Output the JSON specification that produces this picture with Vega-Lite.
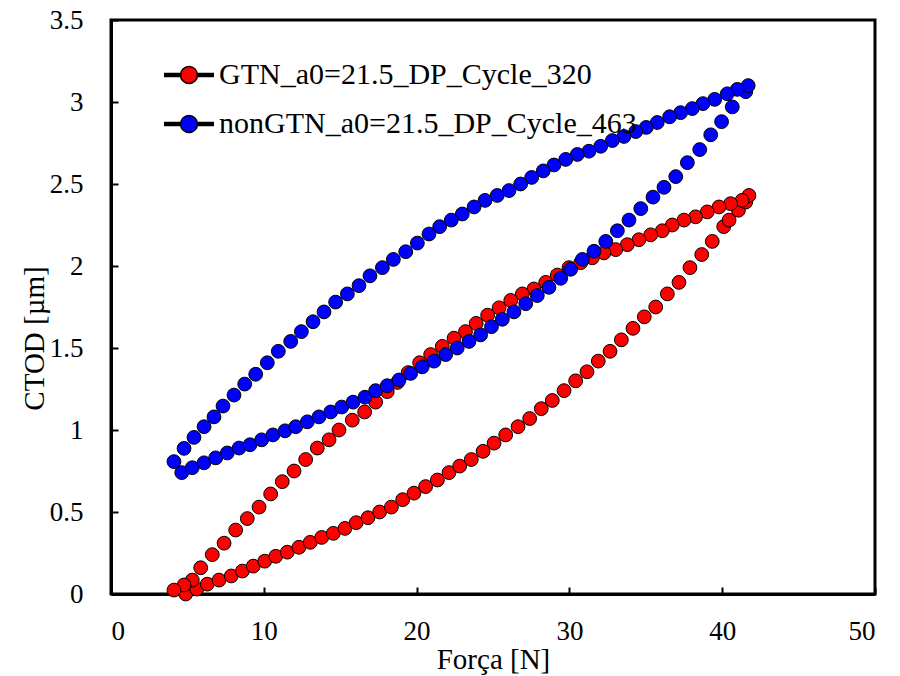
{
  "$schema": "https://vega.github.io/schema/vega-lite/v6.json",
  "width": 764,
  "height": 574,
  "autosize": {"type": "none"},
  "padding": {"left": 111, "top": 20, "right": 25, "bottom": 82},
  "background": "white",
  "config": {
    "view": {"stroke": "black", "strokeWidth": 3},
    "axis": {
      "grid": false,
      "domainColor": "black",
      "domainWidth": 3,
      "tickColor": "black",
      "tickWidth": 2,
      "tickSize": -7,
      "labelFont": "Liberation Serif",
      "labelFontSize": 27,
      "labelColor": "black",
      "titleFont": "Liberation Serif",
      "titleFontSize": 29,
      "titleFontWeight": "normal",
      "titleColor": "black"
    }
  },
  "data": {
    "values": [
      {"series": "GTN_a0=21.5_DP_Cycle_320", "force": 4.89, "ctod": 0.0},
      {"series": "GTN_a0=21.5_DP_Cycle_320", "force": 5.61, "ctod": 0.03},
      {"series": "GTN_a0=21.5_DP_Cycle_320", "force": 6.30, "ctod": 0.06},
      {"series": "GTN_a0=21.5_DP_Cycle_320", "force": 7.07, "ctod": 0.085},
      {"series": "GTN_a0=21.5_DP_Cycle_320", "force": 7.87, "ctod": 0.11},
      {"series": "GTN_a0=21.5_DP_Cycle_320", "force": 8.60, "ctod": 0.14},
      {"series": "GTN_a0=21.5_DP_Cycle_320", "force": 9.31, "ctod": 0.17},
      {"series": "GTN_a0=21.5_DP_Cycle_320", "force": 10.06, "ctod": 0.2},
      {"series": "GTN_a0=21.5_DP_Cycle_320", "force": 10.78, "ctod": 0.23},
      {"series": "GTN_a0=21.5_DP_Cycle_320", "force": 11.54, "ctod": 0.255},
      {"series": "GTN_a0=21.5_DP_Cycle_320", "force": 12.30, "ctod": 0.285},
      {"series": "GTN_a0=21.5_DP_Cycle_320", "force": 13.04, "ctod": 0.315},
      {"series": "GTN_a0=21.5_DP_Cycle_320", "force": 13.79, "ctod": 0.345},
      {"series": "GTN_a0=21.5_DP_Cycle_320", "force": 14.55, "ctod": 0.37},
      {"series": "GTN_a0=21.5_DP_Cycle_320", "force": 15.31, "ctod": 0.4},
      {"series": "GTN_a0=21.5_DP_Cycle_320", "force": 16.05, "ctod": 0.435},
      {"series": "GTN_a0=21.5_DP_Cycle_320", "force": 16.82, "ctod": 0.465},
      {"series": "GTN_a0=21.5_DP_Cycle_320", "force": 17.58, "ctod": 0.5},
      {"series": "GTN_a0=21.5_DP_Cycle_320", "force": 18.35, "ctod": 0.53},
      {"series": "GTN_a0=21.5_DP_Cycle_320", "force": 19.09, "ctod": 0.575},
      {"series": "GTN_a0=21.5_DP_Cycle_320", "force": 19.83, "ctod": 0.615},
      {"series": "GTN_a0=21.5_DP_Cycle_320", "force": 20.59, "ctod": 0.655},
      {"series": "GTN_a0=21.5_DP_Cycle_320", "force": 21.36, "ctod": 0.695},
      {"series": "GTN_a0=21.5_DP_Cycle_320", "force": 22.12, "ctod": 0.74},
      {"series": "GTN_a0=21.5_DP_Cycle_320", "force": 22.82, "ctod": 0.78},
      {"series": "GTN_a0=21.5_DP_Cycle_320", "force": 23.58, "ctod": 0.82},
      {"series": "GTN_a0=21.5_DP_Cycle_320", "force": 24.35, "ctod": 0.87},
      {"series": "GTN_a0=21.5_DP_Cycle_320", "force": 25.07, "ctod": 0.92},
      {"series": "GTN_a0=21.5_DP_Cycle_320", "force": 25.83, "ctod": 0.97},
      {"series": "GTN_a0=21.5_DP_Cycle_320", "force": 26.64, "ctod": 1.02},
      {"series": "GTN_a0=21.5_DP_Cycle_320", "force": 27.40, "ctod": 1.07},
      {"series": "GTN_a0=21.5_DP_Cycle_320", "force": 28.16, "ctod": 1.13},
      {"series": "GTN_a0=21.5_DP_Cycle_320", "force": 28.88, "ctod": 1.18},
      {"series": "GTN_a0=21.5_DP_Cycle_320", "force": 29.65, "ctod": 1.24},
      {"series": "GTN_a0=21.5_DP_Cycle_320", "force": 30.41, "ctod": 1.3},
      {"series": "GTN_a0=21.5_DP_Cycle_320", "force": 31.15, "ctod": 1.355},
      {"series": "GTN_a0=21.5_DP_Cycle_320", "force": 31.89, "ctod": 1.42},
      {"series": "GTN_a0=21.5_DP_Cycle_320", "force": 32.66, "ctod": 1.48},
      {"series": "GTN_a0=21.5_DP_Cycle_320", "force": 33.40, "ctod": 1.55},
      {"series": "GTN_a0=21.5_DP_Cycle_320", "force": 34.16, "ctod": 1.62},
      {"series": "GTN_a0=21.5_DP_Cycle_320", "force": 34.90, "ctod": 1.69},
      {"series": "GTN_a0=21.5_DP_Cycle_320", "force": 35.65, "ctod": 1.75},
      {"series": "GTN_a0=21.5_DP_Cycle_320", "force": 36.41, "ctod": 1.83},
      {"series": "GTN_a0=21.5_DP_Cycle_320", "force": 37.17, "ctod": 1.9},
      {"series": "GTN_a0=21.5_DP_Cycle_320", "force": 37.89, "ctod": 1.99},
      {"series": "GTN_a0=21.5_DP_Cycle_320", "force": 38.66, "ctod": 2.07},
      {"series": "GTN_a0=21.5_DP_Cycle_320", "force": 39.35, "ctod": 2.15},
      {"series": "GTN_a0=21.5_DP_Cycle_320", "force": 40.10, "ctod": 2.24},
      {"series": "GTN_a0=21.5_DP_Cycle_320", "force": 40.45, "ctod": 2.28},
      {"series": "GTN_a0=21.5_DP_Cycle_320", "force": 41.06, "ctod": 2.34},
      {"series": "GTN_a0=21.5_DP_Cycle_320", "force": 41.54, "ctod": 2.39},
      {"series": "GTN_a0=21.5_DP_Cycle_320", "force": 41.75, "ctod": 2.43},
      {"series": "GTN_a0=21.5_DP_Cycle_320", "force": 41.30, "ctod": 2.4},
      {"series": "GTN_a0=21.5_DP_Cycle_320", "force": 40.55, "ctod": 2.38},
      {"series": "GTN_a0=21.5_DP_Cycle_320", "force": 39.79, "ctod": 2.36},
      {"series": "GTN_a0=21.5_DP_Cycle_320", "force": 39.02, "ctod": 2.33},
      {"series": "GTN_a0=21.5_DP_Cycle_320", "force": 38.26, "ctod": 2.3},
      {"series": "GTN_a0=21.5_DP_Cycle_320", "force": 37.50, "ctod": 2.28},
      {"series": "GTN_a0=21.5_DP_Cycle_320", "force": 36.73, "ctod": 2.25},
      {"series": "GTN_a0=21.5_DP_Cycle_320", "force": 36.08, "ctod": 2.215},
      {"series": "GTN_a0=21.5_DP_Cycle_320", "force": 35.32, "ctod": 2.19},
      {"series": "GTN_a0=21.5_DP_Cycle_320", "force": 34.55, "ctod": 2.16},
      {"series": "GTN_a0=21.5_DP_Cycle_320", "force": 33.79, "ctod": 2.13},
      {"series": "GTN_a0=21.5_DP_Cycle_320", "force": 33.03, "ctod": 2.1},
      {"series": "GTN_a0=21.5_DP_Cycle_320", "force": 32.26, "ctod": 2.08},
      {"series": "GTN_a0=21.5_DP_Cycle_320", "force": 31.50, "ctod": 2.05},
      {"series": "GTN_a0=21.5_DP_Cycle_320", "force": 30.74, "ctod": 2.02},
      {"series": "GTN_a0=21.5_DP_Cycle_320", "force": 29.97, "ctod": 1.99},
      {"series": "GTN_a0=21.5_DP_Cycle_320", "force": 29.21, "ctod": 1.945},
      {"series": "GTN_a0=21.5_DP_Cycle_320", "force": 28.45, "ctod": 1.9},
      {"series": "GTN_a0=21.5_DP_Cycle_320", "force": 27.68, "ctod": 1.86},
      {"series": "GTN_a0=21.5_DP_Cycle_320", "force": 26.92, "ctod": 1.83},
      {"series": "GTN_a0=21.5_DP_Cycle_320", "force": 26.16, "ctod": 1.79},
      {"series": "GTN_a0=21.5_DP_Cycle_320", "force": 25.40, "ctod": 1.745},
      {"series": "GTN_a0=21.5_DP_Cycle_320", "force": 24.65, "ctod": 1.7},
      {"series": "GTN_a0=21.5_DP_Cycle_320", "force": 23.90, "ctod": 1.65},
      {"series": "GTN_a0=21.5_DP_Cycle_320", "force": 23.20, "ctod": 1.6},
      {"series": "GTN_a0=21.5_DP_Cycle_320", "force": 22.45, "ctod": 1.56},
      {"series": "GTN_a0=21.5_DP_Cycle_320", "force": 21.68, "ctod": 1.51},
      {"series": "GTN_a0=21.5_DP_Cycle_320", "force": 20.92, "ctod": 1.46},
      {"series": "GTN_a0=21.5_DP_Cycle_320", "force": 20.20, "ctod": 1.41},
      {"series": "GTN_a0=21.5_DP_Cycle_320", "force": 19.45, "ctod": 1.35},
      {"series": "GTN_a0=21.5_DP_Cycle_320", "force": 18.75, "ctod": 1.29},
      {"series": "GTN_a0=21.5_DP_Cycle_320", "force": 18.08, "ctod": 1.234},
      {"series": "GTN_a0=21.5_DP_Cycle_320", "force": 17.32, "ctod": 1.17},
      {"series": "GTN_a0=21.5_DP_Cycle_320", "force": 16.60, "ctod": 1.11},
      {"series": "GTN_a0=21.5_DP_Cycle_320", "force": 15.79, "ctod": 1.06},
      {"series": "GTN_a0=21.5_DP_Cycle_320", "force": 14.92, "ctod": 1.0},
      {"series": "GTN_a0=21.5_DP_Cycle_320", "force": 14.27, "ctod": 0.94},
      {"series": "GTN_a0=21.5_DP_Cycle_320", "force": 13.50, "ctod": 0.89},
      {"series": "GTN_a0=21.5_DP_Cycle_320", "force": 12.74, "ctod": 0.82},
      {"series": "GTN_a0=21.5_DP_Cycle_320", "force": 11.98, "ctod": 0.75},
      {"series": "GTN_a0=21.5_DP_Cycle_320", "force": 11.21, "ctod": 0.685},
      {"series": "GTN_a0=21.5_DP_Cycle_320", "force": 10.45, "ctod": 0.61},
      {"series": "GTN_a0=21.5_DP_Cycle_320", "force": 9.69, "ctod": 0.53},
      {"series": "GTN_a0=21.5_DP_Cycle_320", "force": 8.92, "ctod": 0.46},
      {"series": "GTN_a0=21.5_DP_Cycle_320", "force": 8.16, "ctod": 0.39},
      {"series": "GTN_a0=21.5_DP_Cycle_320", "force": 7.40, "ctod": 0.31},
      {"series": "GTN_a0=21.5_DP_Cycle_320", "force": 6.63, "ctod": 0.24},
      {"series": "GTN_a0=21.5_DP_Cycle_320", "force": 5.87, "ctod": 0.16},
      {"series": "GTN_a0=21.5_DP_Cycle_320", "force": 5.32, "ctod": 0.085},
      {"series": "GTN_a0=21.5_DP_Cycle_320", "force": 4.78, "ctod": 0.055},
      {"series": "GTN_a0=21.5_DP_Cycle_320", "force": 4.12, "ctod": 0.024},
      {"series": "nonGTN_a0=21.5_DP_Cycle_463", "force": 4.63, "ctod": 0.74},
      {"series": "nonGTN_a0=21.5_DP_Cycle_463", "force": 5.32, "ctod": 0.77},
      {"series": "nonGTN_a0=21.5_DP_Cycle_463", "force": 6.09, "ctod": 0.8},
      {"series": "nonGTN_a0=21.5_DP_Cycle_463", "force": 6.85, "ctod": 0.83},
      {"series": "nonGTN_a0=21.5_DP_Cycle_463", "force": 7.61, "ctod": 0.86},
      {"series": "nonGTN_a0=21.5_DP_Cycle_463", "force": 8.38, "ctod": 0.89},
      {"series": "nonGTN_a0=21.5_DP_Cycle_463", "force": 9.10, "ctod": 0.91},
      {"series": "nonGTN_a0=21.5_DP_Cycle_463", "force": 9.86, "ctod": 0.94},
      {"series": "nonGTN_a0=21.5_DP_Cycle_463", "force": 10.60, "ctod": 0.97},
      {"series": "nonGTN_a0=21.5_DP_Cycle_463", "force": 11.39, "ctod": 0.995},
      {"series": "nonGTN_a0=21.5_DP_Cycle_463", "force": 12.09, "ctod": 1.02},
      {"series": "nonGTN_a0=21.5_DP_Cycle_463", "force": 12.85, "ctod": 1.05},
      {"series": "nonGTN_a0=21.5_DP_Cycle_463", "force": 13.61, "ctod": 1.08},
      {"series": "nonGTN_a0=21.5_DP_Cycle_463", "force": 14.38, "ctod": 1.11},
      {"series": "nonGTN_a0=21.5_DP_Cycle_463", "force": 15.10, "ctod": 1.14},
      {"series": "nonGTN_a0=21.5_DP_Cycle_463", "force": 15.84, "ctod": 1.17},
      {"series": "nonGTN_a0=21.5_DP_Cycle_463", "force": 16.62, "ctod": 1.2},
      {"series": "nonGTN_a0=21.5_DP_Cycle_463", "force": 17.32, "ctod": 1.24},
      {"series": "nonGTN_a0=21.5_DP_Cycle_463", "force": 18.08, "ctod": 1.27},
      {"series": "nonGTN_a0=21.5_DP_Cycle_463", "force": 18.85, "ctod": 1.305},
      {"series": "nonGTN_a0=21.5_DP_Cycle_463", "force": 19.61, "ctod": 1.345},
      {"series": "nonGTN_a0=21.5_DP_Cycle_463", "force": 20.37, "ctod": 1.385},
      {"series": "nonGTN_a0=21.5_DP_Cycle_463", "force": 21.14, "ctod": 1.42},
      {"series": "nonGTN_a0=21.5_DP_Cycle_463", "force": 21.90, "ctod": 1.46},
      {"series": "nonGTN_a0=21.5_DP_Cycle_463", "force": 22.66, "ctod": 1.5},
      {"series": "nonGTN_a0=21.5_DP_Cycle_463", "force": 23.43, "ctod": 1.54},
      {"series": "nonGTN_a0=21.5_DP_Cycle_463", "force": 24.19, "ctod": 1.58},
      {"series": "nonGTN_a0=21.5_DP_Cycle_463", "force": 24.90, "ctod": 1.63},
      {"series": "nonGTN_a0=21.5_DP_Cycle_463", "force": 25.61, "ctod": 1.675},
      {"series": "nonGTN_a0=21.5_DP_Cycle_463", "force": 26.37, "ctod": 1.72},
      {"series": "nonGTN_a0=21.5_DP_Cycle_463", "force": 27.14, "ctod": 1.77},
      {"series": "nonGTN_a0=21.5_DP_Cycle_463", "force": 27.90, "ctod": 1.82},
      {"series": "nonGTN_a0=21.5_DP_Cycle_463", "force": 28.66, "ctod": 1.87},
      {"series": "nonGTN_a0=21.5_DP_Cycle_463", "force": 29.43, "ctod": 1.925},
      {"series": "nonGTN_a0=21.5_DP_Cycle_463", "force": 30.08, "ctod": 1.98},
      {"series": "nonGTN_a0=21.5_DP_Cycle_463", "force": 30.85, "ctod": 2.04},
      {"series": "nonGTN_a0=21.5_DP_Cycle_463", "force": 31.61, "ctod": 2.09},
      {"series": "nonGTN_a0=21.5_DP_Cycle_463", "force": 32.38, "ctod": 2.15},
      {"series": "nonGTN_a0=21.5_DP_Cycle_463", "force": 33.14, "ctod": 2.215},
      {"series": "nonGTN_a0=21.5_DP_Cycle_463", "force": 33.90, "ctod": 2.28},
      {"series": "nonGTN_a0=21.5_DP_Cycle_463", "force": 34.67, "ctod": 2.35},
      {"series": "nonGTN_a0=21.5_DP_Cycle_463", "force": 35.47, "ctod": 2.42},
      {"series": "nonGTN_a0=21.5_DP_Cycle_463", "force": 36.19, "ctod": 2.48},
      {"series": "nonGTN_a0=21.5_DP_Cycle_463", "force": 36.96, "ctod": 2.545},
      {"series": "nonGTN_a0=21.5_DP_Cycle_463", "force": 37.72, "ctod": 2.63},
      {"series": "nonGTN_a0=21.5_DP_Cycle_463", "force": 38.53, "ctod": 2.71},
      {"series": "nonGTN_a0=21.5_DP_Cycle_463", "force": 39.25, "ctod": 2.8},
      {"series": "nonGTN_a0=21.5_DP_Cycle_463", "force": 39.96, "ctod": 2.88},
      {"series": "nonGTN_a0=21.5_DP_Cycle_463", "force": 40.66, "ctod": 2.97},
      {"series": "nonGTN_a0=21.5_DP_Cycle_463", "force": 41.54, "ctod": 3.063},
      {"series": "nonGTN_a0=21.5_DP_Cycle_463", "force": 41.70, "ctod": 3.1},
      {"series": "nonGTN_a0=21.5_DP_Cycle_463", "force": 40.99, "ctod": 3.077},
      {"series": "nonGTN_a0=21.5_DP_Cycle_463", "force": 40.33, "ctod": 3.05},
      {"series": "nonGTN_a0=21.5_DP_Cycle_463", "force": 39.51, "ctod": 3.016},
      {"series": "nonGTN_a0=21.5_DP_Cycle_463", "force": 38.74, "ctod": 2.99},
      {"series": "nonGTN_a0=21.5_DP_Cycle_463", "force": 38.04, "ctod": 2.96},
      {"series": "nonGTN_a0=21.5_DP_Cycle_463", "force": 37.28, "ctod": 2.935},
      {"series": "nonGTN_a0=21.5_DP_Cycle_463", "force": 36.56, "ctod": 2.91},
      {"series": "nonGTN_a0=21.5_DP_Cycle_463", "force": 35.75, "ctod": 2.875},
      {"series": "nonGTN_a0=21.5_DP_Cycle_463", "force": 35.03, "ctod": 2.845},
      {"series": "nonGTN_a0=21.5_DP_Cycle_463", "force": 34.34, "ctod": 2.82},
      {"series": "nonGTN_a0=21.5_DP_Cycle_463", "force": 33.57, "ctod": 2.79},
      {"series": "nonGTN_a0=21.5_DP_Cycle_463", "force": 32.81, "ctod": 2.765},
      {"series": "nonGTN_a0=21.5_DP_Cycle_463", "force": 32.05, "ctod": 2.73},
      {"series": "nonGTN_a0=21.5_DP_Cycle_463", "force": 31.28, "ctod": 2.7},
      {"series": "nonGTN_a0=21.5_DP_Cycle_463", "force": 30.52, "ctod": 2.68},
      {"series": "nonGTN_a0=21.5_DP_Cycle_463", "force": 29.76, "ctod": 2.65},
      {"series": "nonGTN_a0=21.5_DP_Cycle_463", "force": 28.99, "ctod": 2.616},
      {"series": "nonGTN_a0=21.5_DP_Cycle_463", "force": 28.29, "ctod": 2.58},
      {"series": "nonGTN_a0=21.5_DP_Cycle_463", "force": 27.53, "ctod": 2.54},
      {"series": "nonGTN_a0=21.5_DP_Cycle_463", "force": 26.81, "ctod": 2.5},
      {"series": "nonGTN_a0=21.5_DP_Cycle_463", "force": 26.05, "ctod": 2.46},
      {"series": "nonGTN_a0=21.5_DP_Cycle_463", "force": 25.28, "ctod": 2.43},
      {"series": "nonGTN_a0=21.5_DP_Cycle_463", "force": 24.48, "ctod": 2.4},
      {"series": "nonGTN_a0=21.5_DP_Cycle_463", "force": 23.76, "ctod": 2.36},
      {"series": "nonGTN_a0=21.5_DP_Cycle_463", "force": 22.99, "ctod": 2.317},
      {"series": "nonGTN_a0=21.5_DP_Cycle_463", "force": 22.27, "ctod": 2.28},
      {"series": "nonGTN_a0=21.5_DP_Cycle_463", "force": 21.51, "ctod": 2.24},
      {"series": "nonGTN_a0=21.5_DP_Cycle_463", "force": 20.81, "ctod": 2.195},
      {"series": "nonGTN_a0=21.5_DP_Cycle_463", "force": 20.05, "ctod": 2.14},
      {"series": "nonGTN_a0=21.5_DP_Cycle_463", "force": 19.29, "ctod": 2.087},
      {"series": "nonGTN_a0=21.5_DP_Cycle_463", "force": 18.48, "ctod": 2.04},
      {"series": "nonGTN_a0=21.5_DP_Cycle_463", "force": 17.76, "ctod": 1.99},
      {"series": "nonGTN_a0=21.5_DP_Cycle_463", "force": 16.95, "ctod": 1.94},
      {"series": "nonGTN_a0=21.5_DP_Cycle_463", "force": 16.23, "ctod": 1.88},
      {"series": "nonGTN_a0=21.5_DP_Cycle_463", "force": 15.47, "ctod": 1.83},
      {"series": "nonGTN_a0=21.5_DP_Cycle_463", "force": 14.70, "ctod": 1.78},
      {"series": "nonGTN_a0=21.5_DP_Cycle_463", "force": 13.94, "ctod": 1.72},
      {"series": "nonGTN_a0=21.5_DP_Cycle_463", "force": 13.22, "ctod": 1.66},
      {"series": "nonGTN_a0=21.5_DP_Cycle_463", "force": 12.46, "ctod": 1.6},
      {"series": "nonGTN_a0=21.5_DP_Cycle_463", "force": 11.76, "ctod": 1.54},
      {"series": "nonGTN_a0=21.5_DP_Cycle_463", "force": 10.95, "ctod": 1.48},
      {"series": "nonGTN_a0=21.5_DP_Cycle_463", "force": 10.23, "ctod": 1.41},
      {"series": "nonGTN_a0=21.5_DP_Cycle_463", "force": 9.47, "ctod": 1.34},
      {"series": "nonGTN_a0=21.5_DP_Cycle_463", "force": 8.75, "ctod": 1.28},
      {"series": "nonGTN_a0=21.5_DP_Cycle_463", "force": 8.05, "ctod": 1.213},
      {"series": "nonGTN_a0=21.5_DP_Cycle_463", "force": 7.33, "ctod": 1.146},
      {"series": "nonGTN_a0=21.5_DP_Cycle_463", "force": 6.74, "ctod": 1.08},
      {"series": "nonGTN_a0=21.5_DP_Cycle_463", "force": 6.09, "ctod": 1.02},
      {"series": "nonGTN_a0=21.5_DP_Cycle_463", "force": 5.43, "ctod": 0.955},
      {"series": "nonGTN_a0=21.5_DP_Cycle_463", "force": 4.78, "ctod": 0.888},
      {"series": "nonGTN_a0=21.5_DP_Cycle_463", "force": 4.12, "ctod": 0.807}
    ]
  },
  "mark": {"type": "point", "filled": true, "stroke": "black", "strokeWidth": 1, "opacity": 1, "size": 190},
  "encoding": {
    "x": {
      "field": "force", "type": "quantitative",
      "scale": {"domain": [0, 50], "nice": false, "zero": false},
      "axis": {"values": [0, 10, 20, 30, 40, 50], "title": "Força [N]", "labelPadding": 31, "titleY": 74, "titleBaseline": "alphabetic"}
    },
    "y": {
      "field": "ctod", "type": "quantitative",
      "scale": {"domain": [0, 3.5], "nice": false, "zero": false},
      "axis": {"values": [0, 0.5, 1, 1.5, 2, 2.5, 3, 3.5], "format": ".1~f", "title": "CTOD [µm]", "labelPadding": 35, "titleX": -77, "titleY": 318, "titleBaseline": "middle", "titleAlign": "center", "titleAngle": -90}
    },
    "fill": {
      "field": "series", "type": "nominal",
      "scale": {"domain": ["GTN_a0=21.5_DP_Cycle_320", "nonGTN_a0=21.5_DP_Cycle_463"], "range": ["#FF0000", "#0000FF"]},
      "legend": {
        "orient": "none", "legendX": 52, "legendY": 29, "title": null, "padding": 0,
        "symbolType": "M-1,-0.06L-0.3,-0.06M-1,0L-0.3,0M-1,0.06L-0.3,0.06M0.3,-0.06L1,-0.06M0.3,0L1,0M0.3,0.06L1,0.06M0.34,0A0.34,0.34,0,1,1,-0.34,0A0.34,0.34,0,1,1,0.34,0Z",
        "symbolSize": 2500, "symbolStrokeColor": "black", "symbolStrokeWidth": 1.5, "symbolOpacity": 1,
        "labelFont": "Liberation Serif", "labelFontSize": 30, "labelColor": "black", "labelOffset": 4, "labelLimit": 0, "rowPadding": 8
      }
    }
  }
}
